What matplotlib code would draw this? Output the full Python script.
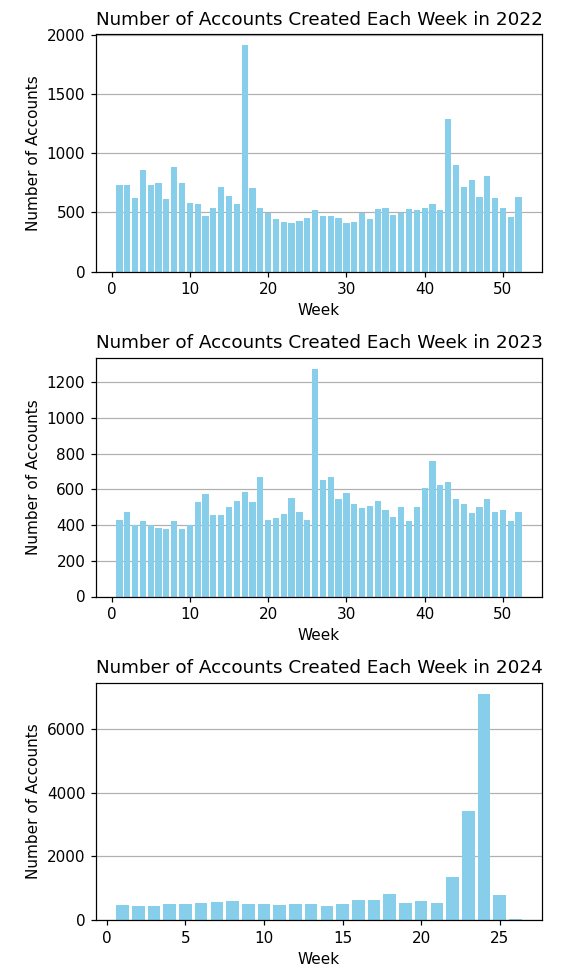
import numpy as np
import matplotlib
matplotlib.use("Agg")
import matplotlib.pyplot as plt
from matplotlib.ticker import MultipleLocator

# weekly account counts
weeks_2022 = np.arange(1, 53)
counts_2022 = [732, 732, 621, 858, 732, 752, 613, 886, 752, 576,
               567, 470, 536, 715, 641, 567, 1913, 707, 536, 496,
               442, 416, 408, 425, 453, 519, 470, 470, 453, 408,
               416, 496, 442, 527, 536, 482, 496, 527, 519, 536,
               567, 519, 1291, 903, 715, 772, 633, 809, 621, 536,
               462, 633]

weeks_2023 = np.arange(1, 53)
counts_2023 = [426, 475, 400, 421, 400, 383, 377, 421, 377, 400,
               531, 575, 456, 456, 501, 537, 586, 531, 669, 426,
               439, 464, 550, 475, 426, 1275, 655, 669, 545, 580,
               518, 494, 507, 537, 483, 445, 501, 421, 501, 607,
               761, 623, 642, 545, 518, 470, 501, 545, 475, 483,
               421, 475]

weeks_2024 = np.arange(1, 27)
counts_2024 = [462, 431, 431, 504, 504, 536, 578, 609, 504, 504,
               462, 504, 504, 431, 504, 641, 641, 819, 536, 609,
               536, 1365, 3444, 7119, 777, 21]

years = ["2022", "2023", "2024"]
weeks = [weeks_2022, weeks_2023, weeks_2024]
counts = [counts_2022, counts_2023, counts_2024]
ytick_steps = [500, 200, 2000]

W, H = 579, 972
DPI = 110
fig = plt.figure(figsize=(W / DPI, H / DPI), dpi=DPI)

# axes boxes in pixels: (left, top, right, bottom)
boxes = [(96, 34, 542, 271.5),
         (96, 357.5, 542, 596.5),
         (96, 682.5, 542, 920)]

for (l, t, r, b), yr, wk, ct, step in zip(boxes, years, weeks, counts, ytick_steps):
    ax = fig.add_axes([l / W, 1 - b / H, (r - l) / W, (b - t) / H])
    ax.bar(wk, ct, color='skyblue')
    ax.set_title(f'Number of Accounts Created Each Week in {yr}')
    ax.set_xlabel('Week')
    ax.set_ylabel('Number of Accounts')
    ax.yaxis.set_major_locator(MultipleLocator(step))
    ax.grid(axis='y')
    ax.set_axisbelow(True)

plt.savefig("out.png", dpi=DPI, facecolor='white')
